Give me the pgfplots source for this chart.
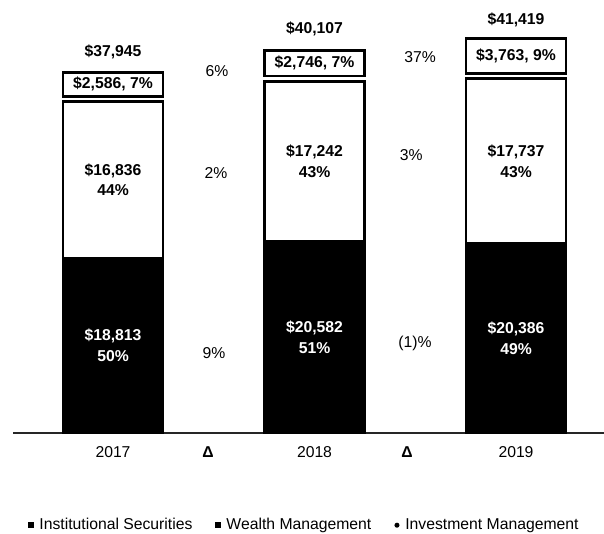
\documentclass[border=0pt]{standalone}
\usepackage{fontspec}
\setmainfont{Liberation Sans}
\usepackage{pgfplots}
\pgfplotsset{compat=1.18}
\newcommand{\lbl}{\fontsize{11.8}{15.5}\selectfont\bfseries}
\newcommand{\reg}{\fontsize{11.8}{15.5}\selectfont}
\begin{document}
\begin{tikzpicture}
\useasboundingbox (-9.75pt,-75pt) rectangle (443.25pt,324.75pt);
\begin{axis}[
  at={(0,0)}, anchor=south west,
  scale only axis, width=443.25pt, height=320.85pt,
  xmin=-0.4963, xmax=2.4367, ymin=0, ymax=46000,
  ybar stacked, bar width=75pt,
  axis x line*=bottom, axis y line=none,
  x axis line style={line width=1.1pt, color=black!85},
  xtick={0,0.471,1,1.459,2},
  xticklabels={2017,\textbf{Δ},2018,\textbf{Δ},2019},
  major tick length=0pt,
  xticklabel style={font=\reg, yshift=-6.5pt},
  ytick=\empty,
  clip=false,
  legend columns=3,
  legend cell align=left,
  legend style={draw=none, fill=none, at={(0.4935,-0.2155)}, anchor=center, font=\reg,
    /tikz/every even column/.append style={column sep=15pt}},
]
\addlegendimage{legend image code/.code={\fill[black,draw=none] (0pt,-2.2pt) rectangle (4.4pt,2.2pt); \path[draw=none,fill=none] (0pt,0pt) rectangle (6.5pt,0.1pt);}}
\addlegendimage{legend image code/.code={\fill[black,draw=none] (0pt,-2.2pt) rectangle (4.4pt,2.2pt); \path[draw=none,fill=none] (0pt,0pt) rectangle (6.5pt,0.1pt);}}
\addlegendimage{legend image code/.code={\fill[black,draw=none] (2.2pt,0pt) circle (1.9pt); \path[draw=none,fill=none] (0pt,0pt) rectangle (6.5pt,0.1pt);}}
% Institutional Securities
\addplot[fill=black, draw=black, line width=2pt]
  coordinates {(0,18813) (1,20582) (2,20386)};
% Wealth Management
\addplot[fill=white, draw=black, line width=2pt]
  coordinates {(0,16836) (1,17242) (2,17737)};
% spacer between boxes (white gap)
\addplot[fill=none, draw=none]
  coordinates {(0,550) (1,550) (2,550)};
% Investment Management
\addplot[fill=white, draw=black, line width=2pt]
  coordinates {(0,2586) (1,2746) (2,3763)};
\legend{Institutional Securities, Wealth Management, Investment Management}

\coordinate (is0) at (axis cs:0,9406);
\coordinate (is1) at (axis cs:1,10291);
\coordinate (is2) at (axis cs:2,10193);
\coordinate (wm0) at (axis cs:0,27231);
\coordinate (wm1) at (axis cs:1,29203);
\coordinate (wm2) at (axis cs:2,29254);
\coordinate (im0) at (axis cs:0,37492);
\coordinate (im1) at (axis cs:1,39747);
\coordinate (im2) at (axis cs:2,40554);
\coordinate (t0) at (axis cs:0,40968);
\coordinate (t1) at (axis cs:1,43441);
\coordinate (t2) at (axis cs:2,44409);
\coordinate (d1) at (axis cs:0.516,38925);
\coordinate (d2) at (axis cs:0.511,27957);
\coordinate (d3) at (axis cs:0.501,8602);
\coordinate (d4) at (axis cs:1.524,40430);
\coordinate (d5) at (axis cs:1.480,29892);
\coordinate (d6) at (axis cs:1.499,9677);
\end{axis}
% segment labels
\node[font=\lbl, text=white, align=center] at (is0) {\$18,813\\50\%};
\node[font=\lbl, text=white, align=center] at (is1) {\$20,582\\51\%};
\node[font=\lbl, text=white, align=center] at (is2) {\$20,386\\49\%};
\node[font=\lbl, align=center] at (wm0) {\$16,836\\44\%};
\node[font=\lbl, align=center] at (wm1) {\$17,242\\43\%};
\node[font=\lbl, align=center] at (wm2) {\$17,737\\43\%};
\node[font=\lbl] at (im0) {\$2,586, 7\%};
\node[font=\lbl] at (im1) {\$2,746, 7\%};
\node[font=\lbl] at (im2) {\$3,763, 9\%};
% totals
\node[font=\lbl] at (t0) {\$37,945};
\node[font=\lbl] at (t1) {\$40,107};
\node[font=\lbl] at (t2) {\$41,419};
% deltas
\node[font=\reg] at (d1) {6\%};
\node[font=\reg] at (d2) {2\%};
\node[font=\reg] at (d3) {9\%};
\node[font=\reg] at (d4) {37\%};
\node[font=\reg] at (d5) {3\%};
\node[font=\reg] at (d6) {(1)\%};
\end{tikzpicture}
\end{document}
